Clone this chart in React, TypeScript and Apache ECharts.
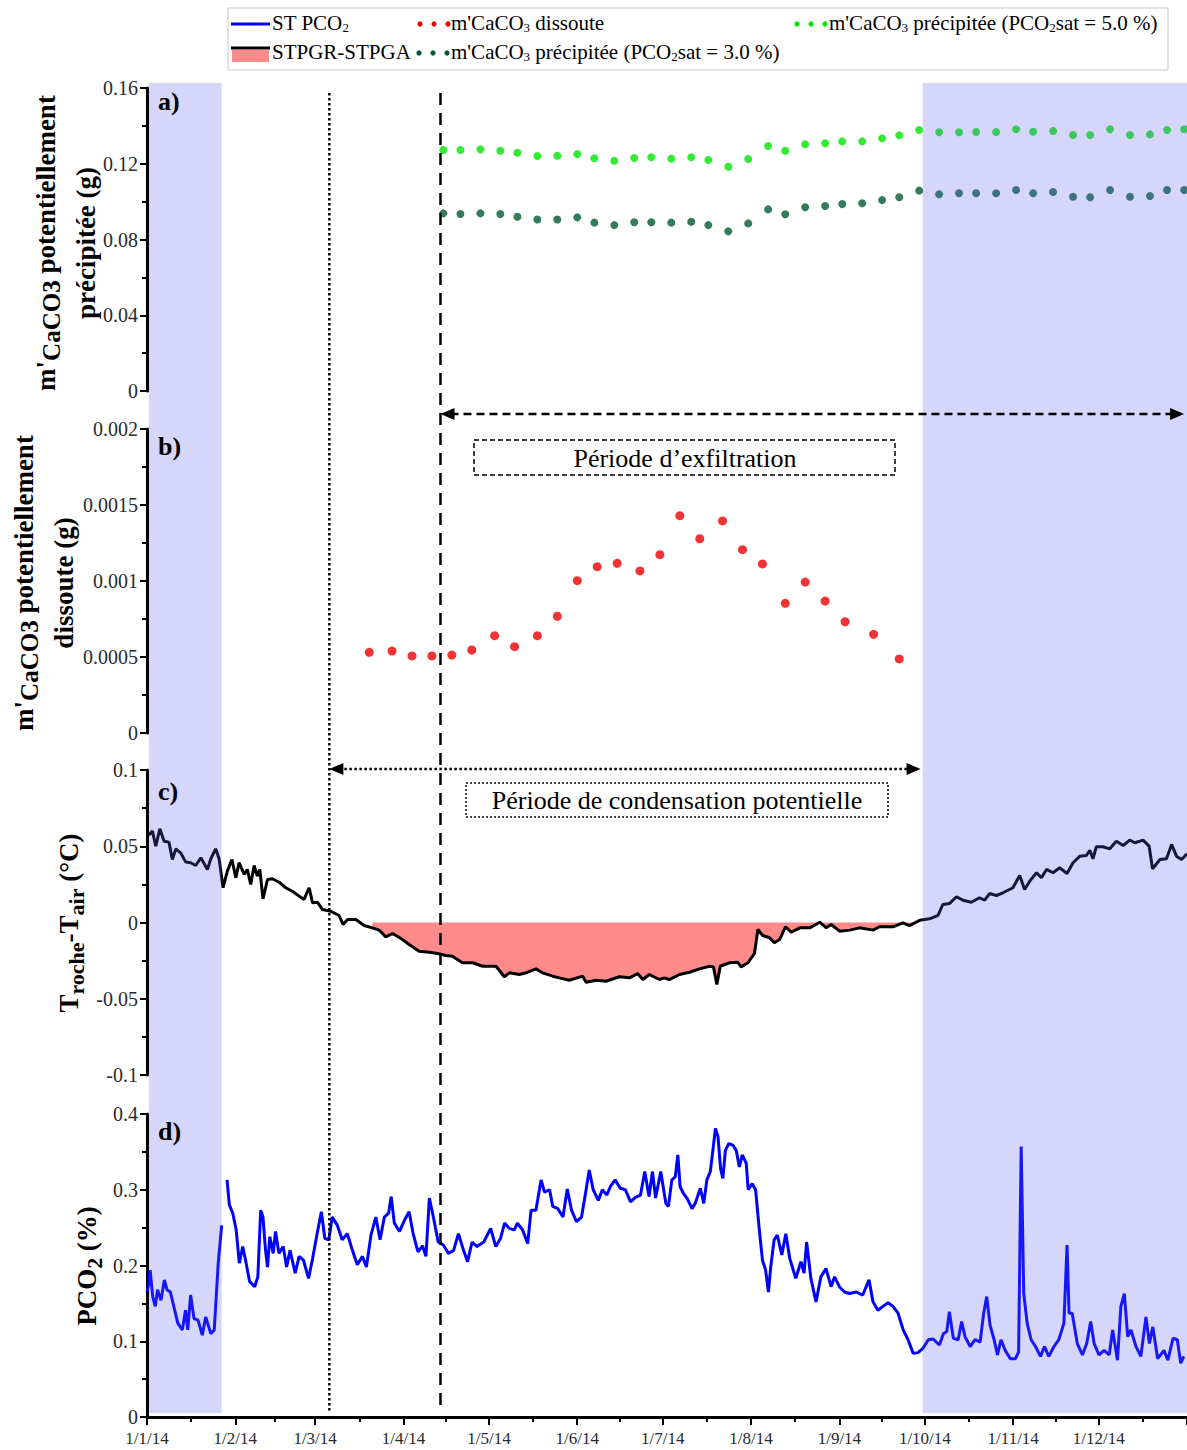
import React, { useEffect, useRef } from "react";
import * as echarts from "echarts";

// ---------------- data ----------------
// a) potentially precipitated m'CaCO3 (g)
const precipDates = [
  "2014-04-15", "2014-04-21", "2014-04-28", "2014-05-05", "2014-05-11", "2014-05-18", "2014-05-25", "2014-06-01",
  "2014-06-07", "2014-06-14", "2014-06-21", "2014-06-27", "2014-07-04", "2014-07-11", "2014-07-17", "2014-07-24",
  "2014-07-31", "2014-08-07", "2014-08-13", "2014-08-20", "2014-08-27", "2014-09-02", "2014-09-09", "2014-09-16",
  "2014-09-22", "2014-09-29", "2014-10-06", "2014-10-13", "2014-10-19", "2014-10-26", "2014-11-02", "2014-11-08",
  "2014-11-15", "2014-11-22", "2014-11-28", "2014-12-05", "2014-12-12", "2014-12-19", "2014-12-25", "2014-12-31",
];
const precipSat50 = [
  0.1273, 0.1273, 0.1276, 0.1269, 0.1258, 0.1241, 0.1242, 0.1251, 0.1229, 0.1216, 0.123, 0.1234, 0.1227, 0.1234,
  0.122, 0.1184, 0.1225, 0.1294, 0.1269, 0.1303, 0.1308, 0.1318, 0.1318, 0.1334, 0.135, 0.1378, 0.1366, 0.1366,
  0.1368, 0.1368, 0.1382, 0.1369, 0.1373, 0.1352, 0.1352, 0.1382, 0.1352, 0.1355, 0.1378, 0.1382,
];
const precipSat30 = [
  0.0938, 0.0935, 0.0938, 0.0935, 0.092, 0.0906, 0.0906, 0.0917, 0.0889, 0.0876, 0.0891, 0.0891, 0.0889, 0.0894,
  0.0876, 0.0843, 0.0885, 0.0959, 0.0933, 0.097, 0.0977, 0.0987, 0.0991, 0.1008, 0.1023, 0.1058, 0.1039, 0.1044,
  0.1044, 0.1044, 0.1061, 0.1044, 0.1051, 0.1026, 0.1023, 0.1061, 0.1026, 0.103, 0.1061, 0.1061,
];

// b) potentially dissolved m'CaCO3 (g)
const dissolDates = [
  "2014-03-20", "2014-03-28", "2014-04-04", "2014-04-11", "2014-04-18", "2014-04-25", "2014-05-03", "2014-05-10",
  "2014-05-18", "2014-05-25", "2014-06-01", "2014-06-08", "2014-06-15", "2014-06-23", "2014-06-30", "2014-07-07",
  "2014-07-14", "2014-07-22", "2014-07-29", "2014-08-05", "2014-08-13", "2014-08-20", "2014-08-27", "2014-09-03",
  "2014-09-13", "2014-09-22",
];
const dissolValues = [
  0.000531, 0.000539, 0.000507, 0.000507, 0.000513, 0.000546, 0.00064, 0.000568, 0.00064, 0.000768, 0.001002,
  0.001094, 0.001116, 0.001066, 0.001173, 0.00143, 0.001278, 0.001395, 0.001206, 0.001112, 0.000853, 0.000993,
  0.000868, 0.000732, 0.000649, 0.000487,
];

// c) Troche - Tair (°C), days since 1/1/14
const dtDays = [
  0.1, 1.9, 3.1, 4.5, 6.0, 7.7, 8.9, 10.1, 11.8, 13.6, 15.3, 17.1, 18.9, 21.2, 22.4, 24.1, 25.3, 26.7, 28.2, 29.8,
  31.2, 32.3, 34.1, 35.2, 36.4, 37.6, 38.7, 39.6, 40.7, 42.3, 44.0, 46.4, 48.7, 51.0, 53.4, 55.1, 56.9, 58.1, 59.8,
  61.6, 64.5, 67.4, 68.8, 70.4, 73.3, 76.2, 79.1, 81.5, 83.8, 86.2, 89.7, 92.0, 95.5, 99.1, 102.0, 104.9, 107.2,
  110.7, 114.3, 117.8, 122.5, 125.4, 127.2, 130.7, 133.0, 136.5, 138.8, 142.4, 144.7, 148.2, 152.9, 154.1, 157.6,
  161.1, 165.8, 169.3, 172.2, 174.0, 176.3, 179.8, 181.6, 183.3, 186.9, 190.4, 193.9, 197.4, 198.8, 200.0, 201.2,
  204.4, 207.3, 208.5, 210.9, 213.2, 214.4, 216.1, 218.5, 220.2, 222.0, 224.1, 226.1, 229.1, 232.6, 236.1, 238.4,
  240.1, 243.1, 246.6, 250.1, 254.8, 257.1, 261.8, 265.3, 267.6, 271.2, 274.7, 277.6, 279.3, 281.7, 284.1, 286.4,
  289.3, 292.2, 294.0, 295.7, 298.1, 300.4, 303.9, 306.3, 308.0, 309.8, 312.2, 313.9, 315.7, 318.0, 320.3, 322.9,
  325.0, 327.4, 329.7, 330.9, 332.0, 333.2, 335.5, 337.9, 340.2, 342.6, 344.9, 346.7, 349.6, 351.7, 352.9, 355.5,
  357.8, 359.6, 361.3, 363.1, 365.0,
];
const dtValues = [
  0.0566, 0.0599, 0.05, 0.0615, 0.0533, 0.0527, 0.0413, 0.0483, 0.0457, 0.0396, 0.0392, 0.0374, 0.0424, 0.0348,
  0.0418, 0.0483, 0.0418, 0.0228, 0.0337, 0.0413, 0.0293, 0.0392, 0.0315, 0.0348, 0.0249, 0.0374, 0.0304, 0.0348,
  0.0155, 0.0282, 0.0287, 0.0264, 0.0228, 0.0205, 0.0173, 0.0151, 0.0228, 0.0129, 0.0133, 0.0085, 0.0074, 0.0046,
  -0.0013, 0.002, 0.002, -0.002, -0.0035, -0.005, -0.0094, -0.0072, -0.0112, -0.0144, -0.0188, -0.0195, -0.0203,
  -0.0216, -0.0221, -0.0264, -0.0264, -0.0287, -0.0287, -0.0356, -0.033, -0.0341, -0.033, -0.0304, -0.033, -0.0352,
  -0.0363, -0.0379, -0.0352, -0.0392, -0.0379, -0.0385, -0.0356, -0.0363, -0.0335, -0.0374, -0.0341, -0.0374,
  -0.0363, -0.0374, -0.0341, -0.0326, -0.0304, -0.0287, -0.0291, -0.0407, -0.0287, -0.0264, -0.026, -0.0291,
  -0.0264, -0.0203, -0.0046, -0.0085, -0.01, -0.0133, -0.0112, -0.0028, -0.0064, -0.0035, -0.0035, 0.0002, -0.0035,
  -0.0013, -0.0057, -0.005, -0.0035, -0.005, -0.0028, -0.0028, -0.0002, -0.002, 0.0015, 0.0024, 0.0046, 0.0118,
  0.0125, 0.0169, 0.0146, 0.0133, 0.0162, 0.0146, 0.019, 0.0177, 0.0195, 0.0228, 0.0308, 0.0216, 0.0271, 0.0326,
  0.0293, 0.0348, 0.0326, 0.0359, 0.0321, 0.0392, 0.0435, 0.0439, 0.0474, 0.0418, 0.0497, 0.0497, 0.0483, 0.0533,
  0.0505, 0.054, 0.0523, 0.054, 0.0501, 0.0352, 0.0413, 0.0418, 0.0512, 0.0435, 0.0413, 0.045,
];

// d) ST PCO2 (%), days since 1/1/14 (null = gap in record)
const pco2Days = [
  0, 0.5, 1.1, 2.0, 2.9, 3.7, 4.9, 6.1, 7.0, 8.2, 9.4, 10.8, 12.4, 13.5, 14.3, 15.3, 16.5, 17.9, 19.4, 20.6, 22.4,
  23.6, 25.0, 26.2, 27.1, 28.1, 28.9, 30.1, 31.3, 32.4, 33.6, 34.8, 36.0, 37.8, 38.9, 39.9, 40.7, 41.6, 42.3, 43.1,
  44.3, 45.1, 46.3, 47.8, 49.0, 50.2, 52.0, 53.4, 54.9, 56.7, 58.1, 59.7, 61.2, 62.4, 63.8, 65.0, 66.8, 68.5, 70.3,
  72.1, 73.8, 75.6, 77.0, 78.6, 80.3, 81.8, 83.3, 84.8, 85.7, 86.8, 88.6, 90.4, 92.0, 93.4, 95.1, 96.7, 97.9, 99.1,
  100.5, 102.2, 104.0, 105.8, 107.6, 109.3, 111.1, 112.5, 114.1, 115.8, 118.2, 120.6, 122.4, 124.1, 125.5, 127.1,
  128.9, 130.0, 131.8, 133.6, 134.8, 136.5, 138.3, 139.5, 141.3, 142.4, 144.2, 146.0, 147.5, 149.0, 150.7, 152.5,
  153.9, 155.2, 156.6, 158.4, 159.8, 161.4, 162.6, 164.3, 166.1, 167.9, 169.7, 171.4, 173.2, 174.7, 176.2, 177.4,
  178.5, 180.3, 182.1, 183.0, 184.2, 185.4, 186.3, 187.1, 188.3, 189.5, 191.3, 192.4, 194.2, 195.4, 196.5, 197.7,
  198.6, 199.5, 200.4, 201.3, 202.1, 203.0, 204.2, 205.6, 206.8, 207.9, 208.9, 210.3, 211.0, 212.4, 213.6, 214.8,
  216.0, 217.1, 218.1, 218.9, 220.1, 221.2, 222.8, 224.2, 225.6, 227.7, 229.5, 230.6, 231.5, 233.0, 234.8, 236.5,
  238.3, 240.1, 241.3, 243.0, 244.8, 246.5, 248.9, 251.2, 253.4, 254.8, 256.5, 258.3, 260.1, 261.8, 263.6, 265.4,
  267.1, 268.9, 270.6, 272.4, 274.2, 275.9, 278.1, 279.5, 280.7, 281.6, 283.0, 284.7, 285.9, 287.1, 288.9, 290.6,
  292.4, 293.6, 294.7, 295.9, 297.3, 298.5, 299.7, 301.2, 303.0, 304.8, 305.9, 306.8, 307.7, 308.9, 310.3, 311.8,
  313.6, 315.0, 316.5, 318.3, 320.0, 321.8, 322.9, 323.6, 324.7, 326.5, 328.3, 329.8, 331.2, 332.4, 334.1, 335.9,
  337.7, 338.9, 340.6, 341.8, 343.0, 344.2, 345.3, 347.1, 348.8, 350.6, 351.8, 353.0, 354.7, 356.9, 358.3, 360.1,
  361.6, 362.8, 363.9,
];
const pco2Values = [
  0.165, 0.174, 0.194, 0.159, 0.146, 0.168, 0.154, 0.181, 0.168, 0.165, 0.146, 0.124, 0.115, 0.141, 0.115, 0.161,
  0.13, 0.128, 0.108, 0.132, 0.11, 0.115, 0.203, 0.253, null, 0.313, 0.28, 0.269, 0.247, 0.203, 0.225, 0.203, 0.179,
  0.172, 0.185, 0.273, 0.264, 0.22, 0.198, 0.238, 0.216, 0.245, 0.216, 0.225, 0.198, 0.22, 0.19, 0.212, 0.207, 0.183,
  0.209, 0.242, 0.271, 0.236, 0.234, 0.264, 0.253, 0.234, 0.242, 0.22, 0.201, 0.212, 0.198, 0.24, 0.264, 0.234,
  0.264, 0.269, 0.291, 0.256, 0.245, 0.26, 0.271, 0.242, 0.218, 0.226, 0.212, 0.289, 0.264, 0.231, 0.227, 0.216,
  0.22, 0.242, 0.22, 0.205, 0.231, 0.225, 0.231, 0.249, 0.225, 0.236, 0.256, 0.249, 0.247, 0.256, 0.247, 0.229,
  0.273, 0.273, 0.313, 0.297, 0.3, 0.278, 0.275, 0.264, 0.301, 0.273, 0.258, 0.264, 0.295, 0.326, 0.3, 0.286, 0.3,
  0.293, 0.304, 0.313, 0.302, 0.3, 0.284, 0.29, 0.293, 0.324, 0.291, 0.324, 0.289, 0.324, 0.282, 0.278, 0.313,
  0.317, 0.346, 0.304, 0.295, 0.289, 0.275, 0.282, 0.302, 0.282, 0.313, 0.324, 0.352, 0.381, 0.37, 0.328, 0.315,
  0.352, 0.361, 0.359, 0.352, 0.33, 0.346, 0.335, 0.3, 0.308, 0.3, 0.251, 0.207, 0.194, 0.165, 0.198, 0.234, 0.24,
  0.214, 0.242, 0.209, 0.183, 0.205, 0.19, 0.231, 0.183, 0.152, 0.185, 0.196, 0.172, 0.185, 0.172, 0.165, 0.163,
  0.165, 0.161, 0.181, 0.152, 0.141, 0.146, 0.151, 0.146, 0.137, 0.115, 0.102, 0.084, 0.085, 0.091, 0.102, 0.103,
  0.095, 0.11, 0.113, 0.139, 0.104, 0.102, 0.126, 0.106, 0.093, 0.102, 0.099, 0.136, 0.159, 0.121, 0.102, 0.082,
  0.102, 0.088, 0.077, 0.077, 0.086, 0.357, 0.163, 0.124, 0.102, 0.093, 0.08, 0.093, 0.08, 0.093, 0.102, 0.124,
  0.227, 0.137, 0.137, 0.097, 0.082, 0.097, 0.126, 0.097, 0.082, 0.088, 0.082, 0.115, 0.075, 0.146, 0.163, 0.106,
  0.115, 0.093, 0.08, 0.132, 0.097, 0.119, 0.077, 0.088, 0.075, 0.104, 0.102, 0.071, 0.08,
];

// y-axis ticks of the four panels
const yTicksA = [0, 0.04, 0.08, 0.12, 0.16];
const yTicksB = [0, 0.0005, 0.001, 0.0015, 0.002];
const yTicksC = [-0.1, -0.05, 0, 0.05, 0.1];
const yTicksD = [0, 0.1, 0.2, 0.3, 0.4];

// periods, in days since 1/1/14
const coldBands = [
  [0, 26.2],
  [271.5, 365],
];
const condensationPeriod = [64, 271.5];
const exfiltrationPeriod = [103, 364];
const stpgPeriod = [78, 271.5];

// ---------------- helpers ----------------
const DAY = 86400000;
const BASE = new Date(2014, 0, 1).getTime();
const END = new Date(2015, 0, 1).getTime();
const tDay = (d: number) => BASE + d * DAY;
const parseDate = (s: string) => {
  const [y, m, d] = s.split("-").map(Number);
  return new Date(y, m - 1, d).getTime();
};
const SERIF = "'Liberation Serif', 'Times New Roman', serif";

const GRIDS = [
  { left: 147, right: -3, top: 88, height: 303 },
  { left: 147, right: -3, top: 429, height: 304 },
  { left: 147, right: -3, top: 770, height: 305 },
  { left: 147, right: -3, top: 1114, height: 303 },
];

function yAxis(i: number, ticks: number[]) {
  return {
    type: "value",
    gridIndex: i,
    min: ticks[0],
    max: ticks[ticks.length - 1],
    interval: ticks[1] - ticks[0],
    axisLine: { show: true, onZero: false, lineStyle: { color: "#000", width: 3 } },
    axisTick: { show: true, length: 7, lineStyle: { color: "#000", width: 2 } },
    minorTick: { show: true, splitNumber: 2, length: 5, lineStyle: { color: "#000", width: 2 } },
    splitLine: { show: false },
    axisLabel: { fontFamily: SERIF, fontSize: 20, color: "#2a2a2a", margin: 9 },
  };
}

function xAxis(i: number) {
  return {
    type: "time",
    gridIndex: i,
    min: BASE,
    max: END,
    show: i === 3,
    splitNumber: 12,
    minInterval: 28 * DAY,
    maxInterval: 31 * DAY,
    axisLine: { show: true, onZero: false, lineStyle: { color: "#000", width: 3 } },
    axisTick: { show: true, length: 8, lineStyle: { color: "#000", width: 2 } },
    minorTick: { show: true, splitNumber: 2, length: 5, lineStyle: { color: "#000", width: 2 } },
    splitLine: { show: false },
    axisLabel: {
      fontFamily: SERIF,
      fontSize: 17,
      color: "#2a2a2a",
      margin: 13,
      showMaxLabel: false,
      formatter: (v: number) => {
        const d = new Date(v);
        return `${d.getDate()}/${d.getMonth() + 1}/${String(d.getFullYear()).slice(2)}`;
      },
    },
  };
}

export default function App() {
  const ref = useRef<HTMLDivElement>(null);

  useEffect(() => {
    document.body.style.margin = "0";
    const el = ref.current!;
    const chart = echarts.init(el, undefined, { renderer: "svg" });

    const precip50 = precipDates.map((d, i) => [parseDate(d), precipSat50[i]]);
    const precip30 = precipDates.map((d, i) => [parseDate(d), precipSat30[i]]);
    const dissol = dissolDates.map((d, i) => [parseDate(d), dissolValues[i]]);
    const dt = dtDays.map((d, i) => [tDay(d), dtValues[i]]);
    const stpg = dt.filter(([x]) => x >= tDay(stpgPeriod[0]) && x <= tDay(stpgPeriod[1]));
    const pco2 = pco2Days.map((d, i) => [tDay(d), pco2Values[i]]);

    chart.setOption({
      animation: false,
      backgroundColor: "#fff",
      grid: GRIDS,
      xAxis: [0, 1, 2, 3].map(xAxis),
      yAxis: [yAxis(0, yTicksA), yAxis(1, yTicksB), yAxis(2, yTicksC), yAxis(3, yTicksD)],
      series: [
        {
          name: "m'CaCO3 précipitée (PCO2sat = 5.0 %)",
          type: "scatter",
          xAxisIndex: 0,
          yAxisIndex: 0,
          symbolSize: 8,
          itemStyle: { color: "#00e600" },
          data: precip50,
          z: 3,
        },
        {
          name: "m'CaCO3 précipitée (PCO2sat = 3.0 %)",
          type: "scatter",
          xAxisIndex: 0,
          yAxisIndex: 0,
          symbolSize: 8,
          itemStyle: { color: "#005a30" },
          data: precip30,
          z: 3,
        },
        {
          name: "m'CaCO3 dissoute",
          type: "scatter",
          xAxisIndex: 1,
          yAxisIndex: 1,
          symbolSize: 9,
          itemStyle: { color: "#ee0000" },
          data: dissol,
          z: 3,
        },
        {
          name: "STPGR-STPGA area",
          type: "line",
          xAxisIndex: 2,
          yAxisIndex: 2,
          showSymbol: false,
          lineStyle: { width: 0, opacity: 0 },
          areaStyle: { color: "#ff8a8a", opacity: 1 },
          data: stpg,
          z: 2,
        },
        {
          name: "STPGR-STPGA",
          type: "line",
          xAxisIndex: 2,
          yAxisIndex: 2,
          showSymbol: false,
          lineStyle: { width: 3, color: "#000" },
          data: dt,
          z: 3,
        },
        {
          name: "ST PCO2",
          type: "line",
          xAxisIndex: 3,
          yAxisIndex: 3,
          showSymbol: false,
          connectNulls: false,
          lineStyle: { width: 3, color: "#0000ff" },
          data: pco2,
          z: 3,
        },
      ],
    });

    const X = (d: number) => chart.convertToPixel({ xAxisIndex: 3 }, tDay(d)) as number;
    const bandTop = GRIDS[0].top - 5;
    const bandBottom = GRIDS[3].top + GRIDS[3].height - 4;

    const g: any[] = [];
    // cold-season bands (drawn over the data, translucent)
    coldBands.forEach(([a, b]) => {
      const x1 = X(a) + 2;
      const x2 = X(b);
      g.push({
        type: "rect",
        z: 10,
        silent: true,
        shape: { x: x1, y: bandTop, width: x2 - x1, height: bandBottom - bandTop },
        style: { fill: "rgba(90,90,235,0.25)" },
      });
    });

    // vertical period markers
    const xc = X(condensationPeriod[0]);
    const xe = X(exfiltrationPeriod[0]);
    g.push({
      type: "line",
      z: 12,
      shape: { x1: xc, y1: 93, x2: xc, y2: 1412 },
      style: { stroke: "#000", lineWidth: 2.5, lineDash: [2.5, 2.5] },
    });
    g.push({
      type: "line",
      z: 12,
      shape: { x1: xe, y1: 93, x2: xe, y2: 1412 },
      style: { stroke: "#000", lineWidth: 2.5, lineDash: [12, 8] },
    });

    const arrow = (x1: number, x2: number, y: number, dash: number[]) => {
      g.push({
        type: "line",
        z: 12,
        shape: { x1: x1 + 10, y1: y, x2: x2 - 10, y2: y },
        style: { stroke: "#000", lineWidth: 2.5, lineDash: dash },
      });
      g.push({
        type: "polygon",
        z: 12,
        shape: { points: [[x1, y], [x1 + 14, y - 6], [x1 + 14, y + 6]] },
        style: { fill: "#000" },
      });
      g.push({
        type: "polygon",
        z: 12,
        shape: { points: [[x2, y], [x2 - 14, y - 6], [x2 - 14, y + 6]] },
        style: { fill: "#000" },
      });
    };
    arrow(X(exfiltrationPeriod[0]), Math.min(X(exfiltrationPeriod[1]), 1186), 414, [8, 5]);
    arrow(X(condensationPeriod[0]), X(condensationPeriod[1]), 769, [2.5, 2.5]);

    // period boxes
    g.push({
      type: "rect",
      z: 12,
      shape: { x: 474, y: 440, width: 421, height: 35 },
      style: { fill: "rgba(0,0,0,0)", stroke: "#000", lineWidth: 1.5, lineDash: [5, 3] },
    });
    g.push({
      type: "text",
      z: 13,
      x: 685,
      y: 458,
      style: {
        text: "Période d’exfiltration",
        fontFamily: SERIF,
        fontSize: 26,
        fill: "#000",
        align: "center",
        verticalAlign: "middle",
      },
    });
    g.push({
      type: "rect",
      z: 12,
      shape: { x: 466, y: 783, width: 422, height: 34 },
      style: { fill: "rgba(0,0,0,0)", stroke: "#000", lineWidth: 1.5, lineDash: [2, 2] },
    });
    g.push({
      type: "text",
      z: 13,
      x: 677,
      y: 800,
      style: {
        text: "Période de condensation potentielle",
        fontFamily: SERIF,
        fontSize: 26,
        fill: "#000",
        align: "center",
        verticalAlign: "middle",
      },
    });

    // panel letters
    [
      ["a)", 101],
      ["b)", 446],
      ["c)", 791],
      ["d)", 1131],
    ].forEach(([t, y]) =>
      g.push({
        type: "text",
        z: 20,
        x: 158,
        y: y as number,
        style: {
          text: t as string,
          fontFamily: SERIF,
          fontWeight: "bold",
          fontSize: 26,
          fill: "#000",
          align: "left",
          verticalAlign: "middle",
        },
      })
    );

    // rotated axis titles
    const titleRich = {
      b: { fontFamily: SERIF, fontWeight: "bold", fontSize: 27, lineHeight: 40, fill: "#000" },
      s: {
        fontFamily: SERIF,
        fontWeight: "bold",
        fontSize: 25,
        lineHeight: 40,
        height: 30,
        verticalAlign: "bottom",
        fill: "#000",
      },
      r: {
        fontFamily: SERIF,
        fontWeight: "bold",
        fontSize: 22,
        lineHeight: 40,
        height: 26,
        verticalAlign: "bottom",
        fill: "#000",
      },
    };
    const title = (x: number, y: number, text: string) =>
      g.push({
        type: "text",
        z: 20,
        x,
        y,
        rotation: Math.PI / 2,
        style: { text, rich: titleRich, align: "center", verticalAlign: "middle" },
      });
    title(66, 243, "{b|m'}{s|CaCO3}{b| potentiellement}\n{b|précipitée (g)}");
    title(44, 583, "{b|m'}{s|CaCO3}{b| potentiellement}\n{b|dissoute (g)}");
    title(69, 923, "{b|T}{r|roche}{b|-T}{r|air}{b| (°C)}");
    title(87, 1266, "{b|PCO}{r|2}{b| (%)}");

    // legend
    const lg = {
      a: { fontFamily: SERIF, fontSize: 21, lineHeight: 24, fill: "#000" },
      s: { fontFamily: SERIF, fontSize: 13, lineHeight: 24, height: 16, verticalAlign: "bottom", fill: "#000" },
    };
    g.push({
      type: "rect",
      z: 20,
      shape: { x: 228, y: 8, width: 940, height: 62 },
      style: { fill: "#fff", stroke: "#c8c8c8", lineWidth: 1 },
    });
    const ltext = (x: number, y: number, text: string) =>
      g.push({
        type: "text",
        z: 21,
        x,
        y,
        style: { text, rich: lg, align: "left", verticalAlign: "middle" },
      });
    const ldots = (xs: number[], y: number, color: string) =>
      xs.forEach((x) => g.push({ type: "circle", z: 21, shape: { cx: x, cy: y, r: 2.6 }, style: { fill: color } }));

    g.push({ type: "line", z: 21, shape: { x1: 231, y1: 24, x2: 270, y2: 24 }, style: { stroke: "#0000ff", lineWidth: 3 } });
    ltext(272, 23, "{a|ST PCO}{s|2}");
    ldots([420, 434, 448], 24, "#ee0000");
    ltext(451, 23, "{a|m'CaCO}{s|3}{a| dissoute}");
    ldots([797, 811, 825], 24, "#00e600");
    ltext(829, 23, "{a|m'CaCO}{s|3}{a| précipitée (PCO}{s|2}{a|sat = 5.0 %)}");

    g.push({ type: "rect", z: 21, shape: { x: 232, y: 50, width: 37, height: 12 }, style: { fill: "#ff8a8a" } });
    g.push({ type: "line", z: 22, shape: { x1: 231, y1: 48, x2: 270, y2: 48 }, style: { stroke: "#000", lineWidth: 3 } });
    ltext(272, 52, "{a|STPGR-STPGA}");
    ldots([419, 433, 447], 53, "#005a30");
    ltext(451, 52, "{a|m'CaCO}{s|3}{a| précipitée (PCO}{s|2}{a|sat = 3.0 %)}");

    chart.setOption({ graphic: { elements: g } });

    return () => chart.dispose();
  }, []);

  return <div ref={ref} style={{ width: 1187, height: 1450 }} />;
}
